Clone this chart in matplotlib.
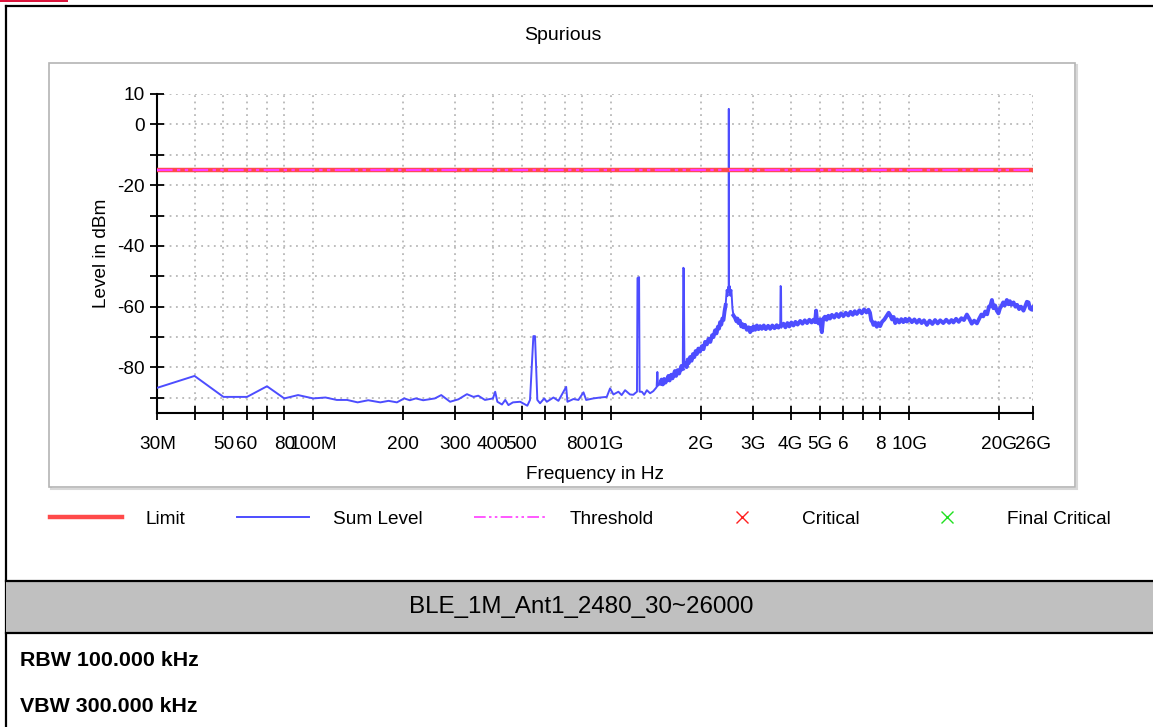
import numpy as np
import matplotlib
matplotlib.use('Agg')
import matplotlib.pyplot as plt
from matplotlib.lines import Line2D
from matplotlib.patches import Rectangle

plt.rcParams['font.family'] = ['Liberation Sans', 'DejaVu Sans']

# Sum Level trace (MHz, dBm)
freq_mhz = [
    30, 40, 50, 60, 70, 80, 89, 100, 110, 120, 130, 141, 153, 168, 179, 191,
    202, 211, 221, 234, 256, 269, 288, 307, 328, 345, 358, 377, 401, 408, 415,
    430, 441, 452, 468, 495, 523, 534, 548, 555, 565, 577, 596, 608, 640, 665,
    706, 713, 747, 776, 807, 824, 871, 918, 966, 991, 1017, 1057, 1084, 1113,
    1156, 1186, 1202, 1220, 1225, 1240, 1245, 1267, 1290, 1317, 1350, 1384,
    1420, 1428, 1435, 1459, 1475, 1490, 1505, 1520, 1536, 1555, 1570, 1590,
    1605, 1617, 1635, 1650, 1670, 1690, 1703, 1720, 1738, 1745, 1752, 1760,
    1773, 1790, 1805, 1820, 1839, 1860, 1880, 1900, 1920, 1938, 1960, 1985,
    2014, 2040, 2065, 2094, 2120, 2150, 2180, 2203, 2230, 2255, 2280, 2300,
    2319, 2340, 2360, 2380, 2400, 2420, 2440, 2455, 2470, 2478, 2480, 2483,
    2495, 2510, 2530, 2550, 2571, 2600, 2630, 2650, 2673, 2700, 2730, 2760,
    2776, 2810, 2850, 2890, 2924, 2950, 2975, 3000, 3040, 3080, 3120, 3159,
    3200, 3250, 3300, 3360, 3414, 3470, 3530, 3590, 3640, 3690, 3700, 3712,
    3720, 3783, 3840, 3900, 3960, 4020, 4086, 4150, 4220, 4305, 4380, 4460,
    4540, 4620, 4700, 4767, 4830, 4867, 4900, 4960, 5020, 5088, 5140, 5210,
    5280, 5350, 5420, 5500, 5600, 5700, 5800, 5900, 6012, 6120, 6240, 6350,
    6460, 6560, 6668, 6800, 6930, 7050, 7180, 7295, 7380, 7450, 7520, 7580,
    7680, 7780, 7880, 7984, 8100, 8250, 8400, 8528, 8628, 8750, 8860, 8967,
    9100, 9250, 9400, 9550, 9700, 9817, 10000, 10200, 10400, 10597, 10800,
    11000, 11200, 11457, 11700, 11950, 12200, 12450, 12697, 13000, 13300,
    13600, 13850, 14065, 14350, 14650, 14950, 15250, 15600, 15900, 16200,
    16500, 16862, 17150, 17450, 17700, 17972, 18250, 18500, 18700, 18930,
    19150, 19400, 19650, 19910, 20150, 20400, 20650, 20900, 21240, 21500,
    21750, 22000, 22370, 22700, 23000, 23350, 23700, 24160, 24500, 24800,
    25120, 25400, 25770, 26000,
]
level_dbm = [
    -86.7, -82.8, -89.7, -89.7, -86.2, -90.2, -89.1, -90.2, -89.9, -90.7,
    -90.7, -91.5, -90.8, -91.5, -91.0, -91.5, -90.2, -90.8, -90.2, -90.8,
    -90.2, -89.1, -91.3, -90.5, -88.8, -89.7, -89.3, -90.7, -90.2, -88.0,
    -91.3, -92.2, -90.7, -92.4, -91.5, -91.3, -92.6, -90.7, -69.7, -69.7,
    -90.7, -91.8, -90.2, -91.3, -89.9, -91.0, -86.4, -91.3, -90.4, -90.7,
    -88.2, -90.7, -90.2, -89.9, -89.7, -86.9, -88.9, -88.0, -89.1, -87.5,
    -88.9, -89.0, -88.5, -88.0, -50.6, -50.3, -88.0, -88.0, -89.0, -87.5,
    -88.5, -87.8, -86.5, -81.5, -86.0, -85.3, -84.0, -85.6, -83.8, -85.0,
    -84.2, -82.8, -84.3, -82.4, -83.6, -82.6, -81.2, -82.8, -80.9, -82.0,
    -80.9, -79.5, -80.5, -47.2, -47.5, -79.3, -78.6, -79.9, -77.4, -78.6,
    -76.6, -77.8, -75.6, -76.6, -74.6, -75.6, -73.8, -74.8, -73.0, -74.0,
    -71.6, -72.4, -70.6, -71.6, -69.4, -70.0, -67.8, -68.8, -66.6, -67.2,
    -65.1, -65.9, -63.9, -64.4, -61.5, -59.5, -54.5, -56.5, -53.5, -55.0,
    5.1, -55.0, -53.2, -56.4, -54.5, -60.5, -62.9, -63.6, -64.8, -63.9,
    -65.4, -64.6, -66.5, -65.8, -66.8, -66.0, -67.6, -66.8, -68.4, -67.0,
    -67.8, -66.5, -67.6, -66.2, -67.4, -66.4, -67.3, -66.2, -67.4, -66.3,
    -67.3, -66.2, -67.1, -66.1, -66.9, -66.3, -53.2, -53.5, -66.4, -65.6,
    -66.8, -65.4, -66.5, -65.2, -66.2, -65.0, -65.9, -64.7, -65.6, -64.5,
    -65.4, -64.3, -65.2, -64.3, -65.1, -61.3, -64.5, -65.5, -64.2, -68.4,
    -64.0, -63.3, -64.3, -63.0, -63.9, -62.7, -63.6, -62.4, -63.4, -62.2,
    -63.1, -62.0, -62.9, -61.7, -62.7, -61.5, -62.4, -61.2, -62.2, -60.9,
    -61.9, -61.0, -62.0, -64.5, -65.0, -66.0, -65.2, -66.6, -65.4, -66.4,
    -65.0, -64.2, -63.0, -62.0, -62.8, -64.2, -63.4, -65.4, -64.2, -65.2,
    -64.1, -65.1, -64.0, -64.9, -64.0, -65.1, -64.2, -65.3, -64.3, -65.4,
    -64.5, -66.0, -64.6, -65.7, -64.4, -65.5, -64.5, -65.4, -64.3, -65.3,
    -64.4, -65.2, -64.0, -65.0, -63.8, -64.4, -62.6, -64.0, -65.6, -64.6,
    -65.5, -64.0, -62.6, -63.2, -61.6, -62.5, -60.0, -59.8, -57.8, -60.5,
    -59.6, -61.3, -62.2, -60.5, -59.7, -58.6, -59.6, -57.8, -59.2, -58.2,
    -59.4, -58.6, -60.0, -59.4, -60.8, -60.0, -61.3, -59.8, -58.4, -58.6,
    -60.6, -61.0, -60.2,
]

# frequency ranges where the trace is a dense noise band (drawn thicker)
band_ranges_mhz = [(1440, 1738), (1760, 2420), (2560, 3690), (3720, 26000)]

# Limit / threshold segments (gap over the transmit band)
limit_start_mhz = [30, 2483.5]
limit_stop_mhz = [2400, 26000]
limit_dbm = -15

xtick_mhz = [30, 40, 50, 60, 70, 80, 100, 200, 300, 400, 500, 600, 700, 800,
             1000, 2000, 3000, 4000, 5000, 6000, 7000, 8000, 10000, 20000, 26000]
xtick_labels = ['30M', '', '50', '60', '', '80', '100M', '200', '300', '400',
                '500', '', '', '800', '1G', '2G', '3G', '4G', '5G', '6', '',
                '8', '10G', '20G', '26G']
ytick_dbm = [10, 0, -10, -20, -30, -40, -50, -60, -70, -80, -90]
ytick_labels = ['10', '0', '', '-20', '', '-40', '', '-60', '', '-80', '']

legend_labels = ['Limit', 'Sum Level', 'Threshold', 'Critical', 'Final Critical']

W, H = 1153, 727
fig = plt.figure(figsize=(W / 100, H / 100), dpi=100)


def fx(px):
    return px / W


def fy(py):
    return 1 - py / H


# page decorations: table borders, grey band, panel box (behind the axes)
deco = dict(transform=fig.transFigure, zorder=-5)
fig.add_artist(Rectangle((0, fy(2)), fx(68), fy(0) - fy(2),
                         facecolor='#dc143c', edgecolor='none', **deco))
fig.add_artist(Line2D([fx(6), fx(6)], [fy(6), 0], color='black', lw=1.6, **deco))
fig.add_artist(Line2D([fx(6), 1], [fy(6), fy(6)], color='black', lw=1.6, **deco))
fig.add_artist(Rectangle((fx(6), fy(633)), 1 - fx(6), fy(581) - fy(633),
                         facecolor='#c0c0c0', edgecolor='none', **deco))
for yy in (581, 633):
    fig.add_artist(Line2D([fx(6), 1], [fy(yy), fy(yy)], color='black', lw=1.6,
                          **deco))
fig.add_artist(Rectangle((fx(51), fy(489)), fx(1026), fy(65) - fy(489),
                         facecolor='none', edgecolor='#d8d8d8', lw=1.5, **deco))
fig.add_artist(Rectangle((fx(49), fy(487)), fx(1026), fy(63) - fy(487),
                         facecolor='white', edgecolor='#b4b4b4', lw=1.2, **deco))

fig.text(fx(563), fy(35), 'Spurious', ha='center', va='center', fontsize=14)
fig.text(fx(581), fy(607), 'BLE_1M_Ant1_2480_30~26000', ha='center', va='center',
         fontsize=17.4)
fig.text(fx(20), fy(661), 'RBW 100.000 kHz', ha='left', va='center',
         fontsize=15.4, fontweight='bold')
fig.text(fx(20), fy(707), 'VBW 300.000 kHz', ha='left', va='center',
         fontsize=15.4, fontweight='bold')

ax = fig.add_axes([fx(157.3), fy(413), fx(1033) - fx(157.3), fy(94) - fy(413)])
ax.set_facecolor('none')

red = '#ff4a4a'
blue = '#4d4dff'
magenta = '#ff3cff'
thr_dash = (0, (7, 2, 1.5, 2, 1.5, 2))

f_mhz = np.array(freq_mhz, dtype=float)
lev = np.array(level_dbm)
ax.plot(f_mhz * 1e6, lev, color=blue, lw=1.4, zorder=3)
for lo, hi in band_ranges_mhz:
    m = (f_mhz >= lo) & (f_mhz <= hi)
    ax.plot(f_mhz[m] * 1e6, lev[m], color=blue, lw=2.8, zorder=3,
            solid_joinstyle='round')
for a, b in zip(limit_start_mhz, limit_stop_mhz):
    ax.plot([a * 1e6, b * 1e6], [limit_dbm, limit_dbm], color=red, lw=3.2, zorder=4)
    ax.plot([a * 1e6, b * 1e6], [limit_dbm, limit_dbm], color=magenta, lw=1.6,
            linestyle=thr_dash, zorder=5)

ax.set_xscale('log')
ax.set_xlim(30e6, 26e9)
ax.set_ylim(-95, 10)
ax.set_xticks([m * 1e6 for m in xtick_mhz])
ax.set_xticklabels(xtick_labels)
ax.xaxis.set_minor_locator(matplotlib.ticker.NullLocator())
ax.set_yticks(ytick_dbm)
ax.set_yticklabels(ytick_labels)

ax.grid(True, color='#b8b8b8', linestyle=(0, (1, 2.5)), lw=1.3)
ax.set_axisbelow(True)
for s in ('top', 'right'):
    ax.spines[s].set_visible(False)
for s in ('left', 'bottom'):
    ax.spines[s].set_linewidth(1.5)
ax.tick_params(direction='inout', length=10, width=1.3, labelsize=13.7, pad=4)
ax.tick_params(axis='x', pad=11.5)

ax.set_xlabel('Frequency in Hz', fontsize=13.7, labelpad=9.5)
ax.set_ylabel('Level in dBm', fontsize=13.7, labelpad=5)

handles = [
    Line2D([], [], color=red, lw=3.2),
    Line2D([], [], color=blue, lw=1.4),
    Line2D([], [], color=magenta, lw=1.2, linestyle=thr_dash),
    Line2D([], [], color='#ff2020', marker='x', linestyle='none', markersize=9),
    Line2D([], [], color='#20e020', marker='x', linestyle='none', markersize=9),
]
fig.legend(handles, legend_labels, ncol=5, loc='center',
           bbox_to_anchor=(fx(580), fy(519)), frameon=False, fontsize=13.7,
           handlelength=3.8, handletextpad=1.25, columnspacing=2.7)

fig.savefig('out.png', dpi=100)
